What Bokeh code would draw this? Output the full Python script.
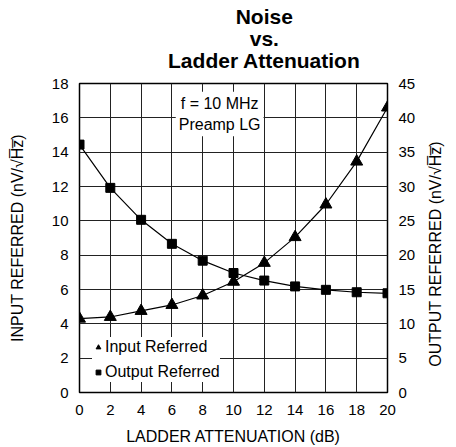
from bokeh.plotting import figure
from bokeh.models import Range1d, LinearAxis, FixedTicker, Label, Legend, LegendItem
from bokeh.embed import file_html
from bokeh.resources import INLINE
import math

# ---- data ----
attenuation_db = [0, 2, 4, 6, 8, 10, 12, 14, 16, 18, 20]
input_referred = [4.3, 4.4, 4.75, 5.1, 5.65, 6.45, 7.55, 9.05, 10.95, 13.45, 16.6]
output_referred = [36.1, 29.8, 25.15, 21.65, 19.2, 17.4, 16.3, 15.45, 14.95, 14.6, 14.45]

x_ticks = [0, 2, 4, 6, 8, 10, 12, 14, 16, 18, 20]
left_ticks = [0, 2, 4, 6, 8, 10, 12, 14, 16, 18]
right_ticks = [0, 5, 10, 15, 20, 25, 30, 35, 40, 45]

title_text = "Noise\nvs.\nLadder Attenuation"
x_label = "LADDER ATTENUATION (dB)"
left_label = "INPUT REFERRED (nV/\u221aH\u0305z\u0305)"
right_label = "OUTPUT REFERRED (nV/\u221aH\u0305z\u0305)"
note_lines = ["f = 10 MHz", "Preamp LG"]
series_names = ["Input Referred", "Output Referred"]

FONT = "Liberation Sans"
TITLE_AT = 12      # x position (dB) where the title is centred
RLABEL_AT = 1.5    # left-axis value where the right-hand title starts

p = figure(width=456, height=447, output_backend="svg", toolbar_location=None,
           x_range=Range1d(0, 20), y_range=Range1d(0, 18),
           min_border_left=79, min_border_right=69, min_border_top=83, min_border_bottom=55,
           background_fill_color="white", border_fill_color="white", title=None)
p.extra_y_ranges = {"right": Range1d(0, 45)}

p.outline_line_color = "black"
p.outline_line_width = 1.5

ax_b = p.below[0]
ax_l = p.left[0]
ax_b.ticker = FixedTicker(ticks=x_ticks)
ax_l.ticker = FixedTicker(ticks=left_ticks)

ax_r = LinearAxis(y_range_name="right", ticker=FixedTicker(ticks=right_ticks))
p.add_layout(ax_r, "right")

# right-hand axis title (reads bottom to top)
ax_rt = LinearAxis(ticker=FixedTicker(ticks=[RLABEL_AT]),
                   major_label_overrides={RLABEL_AT: right_label})
p.add_layout(ax_rt, "right")

# chart title, centred over TITLE_AT
ax_t = LinearAxis(ticker=FixedTicker(ticks=[TITLE_AT]),
                  major_label_overrides={TITLE_AT: title_text})
p.add_layout(ax_t, "above")

for ax in [ax_b, ax_l, ax_r, ax_rt, ax_t]:
    ax.axis_line_color = None
    ax.major_tick_line_color = None
    ax.major_tick_out = 0
    ax.major_tick_in = 0
    ax.minor_tick_line_color = None
    ax.minor_tick_out = 0
    ax.minor_tick_in = 0
    ax.major_label_text_font = FONT
    ax.major_label_text_font_size = "15px"
    ax.major_label_text_color = "black"
    ax.major_label_standoff = 11
    ax.axis_label_text_font = FONT
    ax.axis_label_text_font_size = "16px"
    ax.axis_label_text_font_style = "normal"
    ax.axis_label_text_color = "black"

ax_b.major_label_standoff = 12
ax_b.axis_label = x_label
ax_b.axis_label_standoff = 10
ax_l.axis_label = left_label
ax_l.axis_label_standoff = 23

ax_rt.major_label_text_font_size = "16px"
ax_rt.major_label_orientation = math.pi / 2
ax_rt.major_label_standoff = 17

ax_t.major_label_text_font_size = "21px"
ax_t.major_label_text_font_style = "bold"
ax_t.major_label_text_line_height = 0.95
ax_t.major_label_standoff = 12

p.xgrid.ticker = FixedTicker(ticks=x_ticks)
p.ygrid.ticker = FixedTicker(ticks=left_ticks)
p.grid.grid_line_color = "#222222"
p.grid.grid_line_width = 1
p.grid.grid_line_alpha = 1

# data
p.line(attenuation_db, input_referred, line_color="black", line_width=1.2)
p.line(attenuation_db, output_referred, line_color="black", line_width=1.2, y_range_name="right")
tri = p.scatter(attenuation_db, input_referred, marker="triangle", size=12,
                fill_color="black", line_color="black")
sq = p.scatter(attenuation_db, output_referred, marker="square", size=9,
               fill_color="black", line_color="black", y_range_name="right")

# note
for txt, yy in zip(note_lines, [16.85, 15.6]):
    p.add_layout(Label(x=9.1, y=yy, text=txt, text_align="center", text_baseline="alphabetic",
                       text_font=FONT, text_font_size="16px", text_color="black",
                       background_fill_color="white", padding=3))

legend = Legend(items=[LegendItem(label=series_names[0], renderers=[tri]),
                       LegendItem(label=series_names[1], renderers=[sq])],
                location=(13, 10), padding=0, margin=0, spacing=5,
                glyph_width=12, glyph_height=20, label_height=20, label_standoff=1,
                label_text_font=FONT, label_text_font_size="16px", label_text_color="black",
                background_fill_color="white", background_fill_alpha=1,
                border_line_color=None)
p.add_layout(legend, "center")

open("out.html", "w").write(file_html(p, INLINE))
